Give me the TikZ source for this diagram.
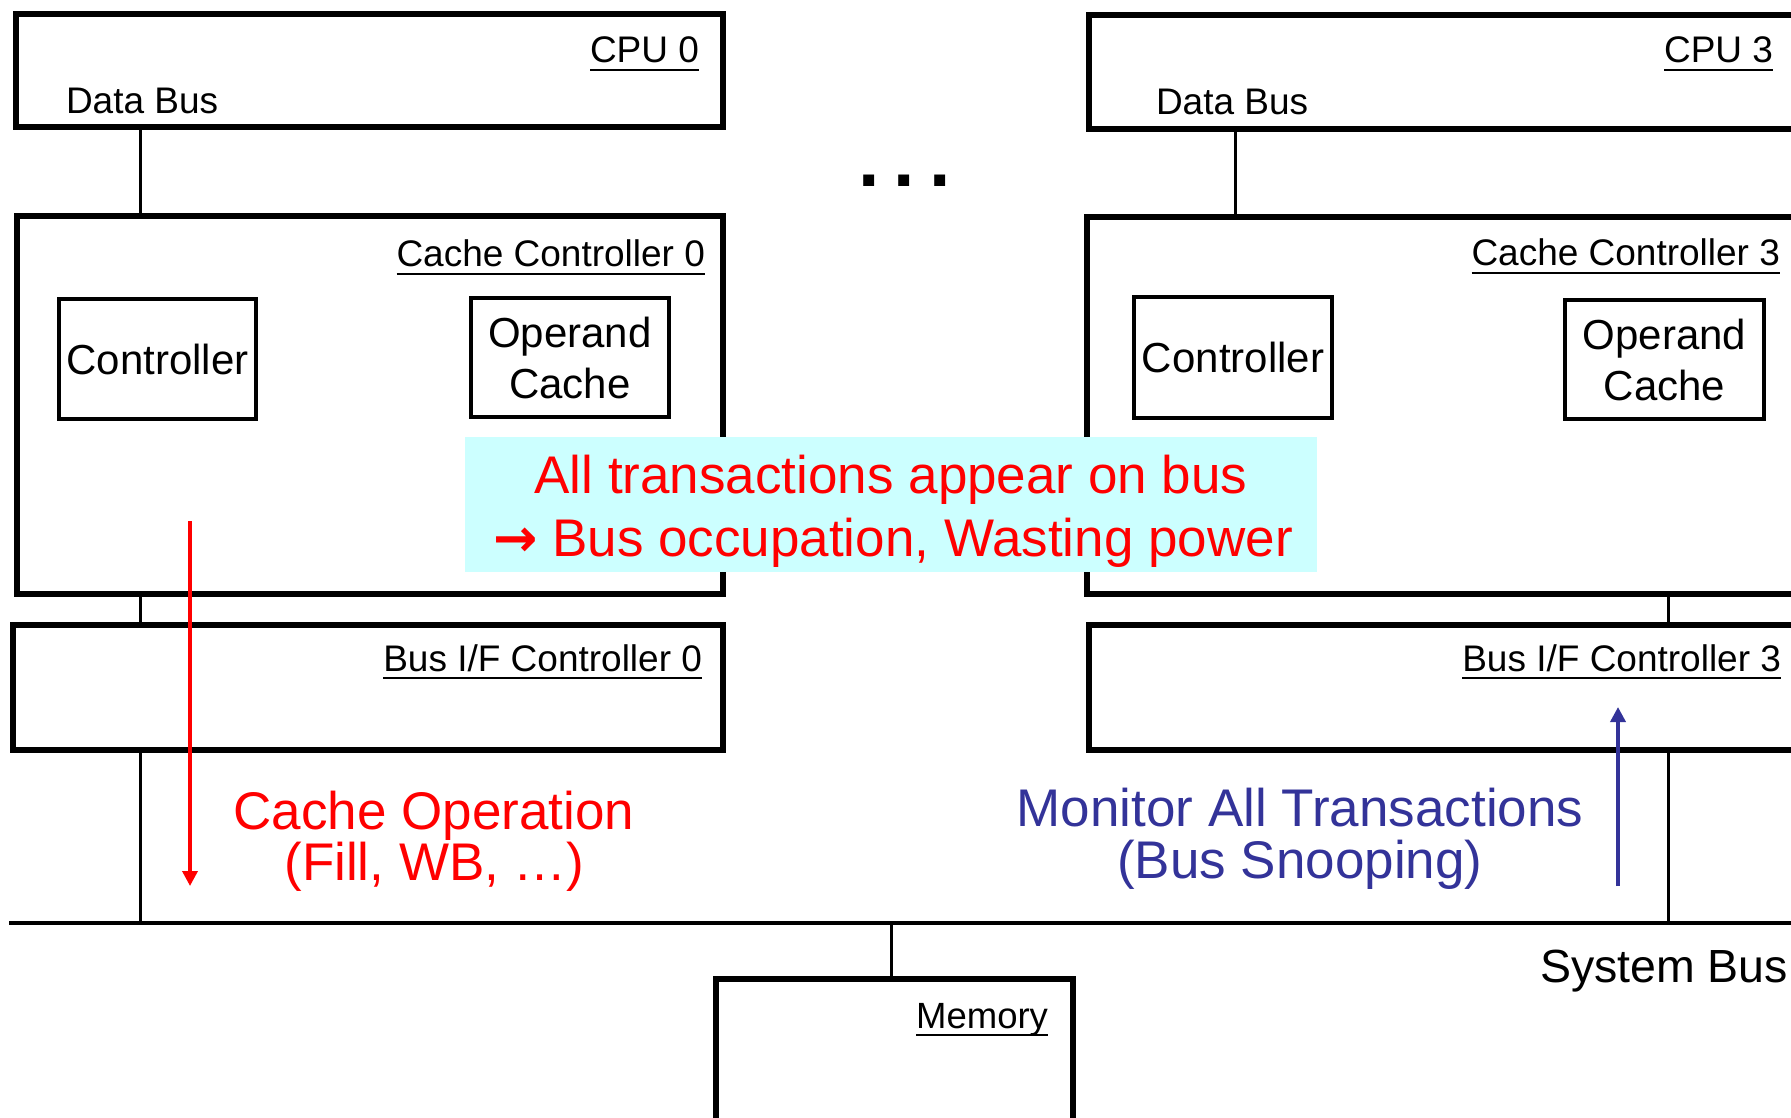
\documentclass[tikz,border=0pt]{standalone}
\usepackage{fontspec}
\setmainfont{Liberation Sans}
\newfontfamily\arrowfont{DejaVu Sans}
\usetikzlibrary{arrows.meta}
\definecolor{snoopblue}{RGB}{51,51,153}
\definecolor{notecyan}{RGB}{204,255,255}
\newcommand\ulbl[1]{\setbox0=\hbox{#1}\rlap{\vrule width\wd0 height -0.17em depth 0.225em}\box0}
\begin{document}
\begin{tikzpicture}[x=1pt,y=-1pt,
  obox/.style={draw, line width=5.5pt, inner sep=0pt, outer sep=0pt},
  ibox/.style={draw, line width=3.5pt, inner sep=0pt, outer sep=0pt, align=center, font=\fontsize{42}{51}\selectfont},
  lab/.style={inner sep=0pt, outer sep=0pt, font=\fontsize{37}{44}\selectfont, anchor=base east},
  labw/.style={inner sep=0pt, outer sep=0pt, font=\fontsize{37}{44}\selectfont, anchor=base west},
  conn/.style={line width=3pt},
  bigred/.style={inner sep=0pt, text=red, font=\fontsize{53}{60}\selectfont, anchor=base},
  bigblue/.style={inner sep=0pt, text=snoopblue, font=\fontsize{53}{60}\selectfont, anchor=base},
  tip/.style={-{Triangle[length=15pt,width=15pt]}, line width=3.5pt}]
\useasboundingbox (0,0) rectangle (1791,1118);

% outer boxes
\node[obox, minimum width=707pt, minimum height=113pt] (cpu0) at (369.5,70.5) {};
\node[obox, minimum width=721pt, minimum height=114pt] (cpu3) at (1449.5,72) {};
\node[obox, minimum width=706pt, minimum height=378pt] (cc0) at (370,405) {};
\node[obox, minimum width=723pt, minimum height=377pt] (cc3) at (1448.5,405.5) {};
\node[obox, minimum width=710pt, minimum height=125pt] (bif0) at (368,687.5) {};
\node[obox, minimum width=721pt, minimum height=125pt] (bif3) at (1449.5,687.5) {};
\node[obox, minimum width=357pt, minimum height=151pt] (mem) at (894.5,1054.5) {};

% inner boxes
\node[ibox, minimum width=197pt, minimum height=120pt] (ctrl0) at (157.5,359) {Controller};
\node[ibox, minimum width=198pt, minimum height=119pt] (opc0) at (570,357.5) {Operand\\Cache};
\node[ibox, minimum width=198pt, minimum height=121pt] (ctrl3) at (1233,357.5) {Controller};
\node[ibox, minimum width=199pt, minimum height=119pt] (opc3) at (1664.5,359.5) {Operand\\Cache};

% labels
\node[lab] (lcpu0) at (699,62.5) {\ulbl{CPU 0}};
\node[labw] (ldb0) at (66,113.5) {Data Bus};
\node[lab] (lcpu3) at (1773,63) {\ulbl{CPU 3}};
\node[labw] (ldb3) at (1156,114.7) {Data Bus};
\node[lab] (lcc0) at (705,266.5) {\ulbl{Cache Controller 0}};
\node[lab] (lcc3) at (1780,265.4) {\ulbl{Cache Controller 3}};
\node[lab] (lbif0) at (702,671) {\ulbl{Bus I/F Controller 0}};
\node[lab] (lbif3) at (1781,671) {\ulbl{Bus I/F Controller 3}};
\node[lab, font=\fontsize{36.5}{42}\selectfont] (lmem) at (1048,1028) {\ulbl{Memory}};
\node[labw, font=\fontsize{46.5}{52}\selectfont] (lsb) at (1540,982) {System Bus};

% dots
\node[inner sep=0pt, font=\fontsize{77}{80}\selectfont\bfseries] (dots) at (904.5,180.5) {.\hspace{14.3pt}.\hspace{14.3pt}.};

% system bus
\coordinate (sbl) at (9,923);
\coordinate (sbr) at (1800,923);
\draw[line width=4pt] (sbl) -- (sbr);

% connectors
\coordinate (x0) at (140,0);
\coordinate (x3a) at (1235,0);
\coordinate (x3b) at (1668,0);
\coordinate (xm) at (891,0);
\draw[conn] (x0 |- cpu0.south) -- (x0 |- cc0.north);
\draw[conn] (x0 |- cc0.south) -- (x0 |- bif0.north);
\draw[conn] (x0 |- bif0.south) -- (x0 |- sbl);
\draw[conn] (x3a |- cpu3.south) -- (x3a |- cc3.north);
\draw[conn] (x3b |- cc3.south) -- (x3b |- bif3.north);
\draw[conn] (x3b |- bif3.south) -- (x3b |- sbl);
\draw[conn] (xm |- sbl) -- (xm |- mem.north);

% note box
\node[fill=notecyan, inner sep=0pt, minimum width=852pt, minimum height=135pt] (note) at (891,504.5) {};
\node[bigred] (n1) at (891,493.3) {All transactions appear on bus};
\node[bigred] (n2) at (893,556.7) {{\arrowfont\bfseries →} Bus occupation, Wasting power};

% cache operation arrow
\coordinate (ra) at (190,521);
\coordinate (rb) at (190,886);
\draw[tip, red] (ra) -- (rb);
\node[bigred] (co1) at (434,829.5) {Cache Operation};
\node[bigred] (co2) at (434.5,880) {(Fill, WB, …)};

% snooping arrow
\coordinate (ba) at (1618,886);
\coordinate (bb) at (1618,707);
\draw[tip, snoopblue] (ba) -- (bb);
\node[bigblue] (mo1) at (1300,826.5) {Monitor All Transactions};
\node[bigblue] (mo2) at (1300,878) {(Bus Snooping)};
\end{tikzpicture}
\end{document}
